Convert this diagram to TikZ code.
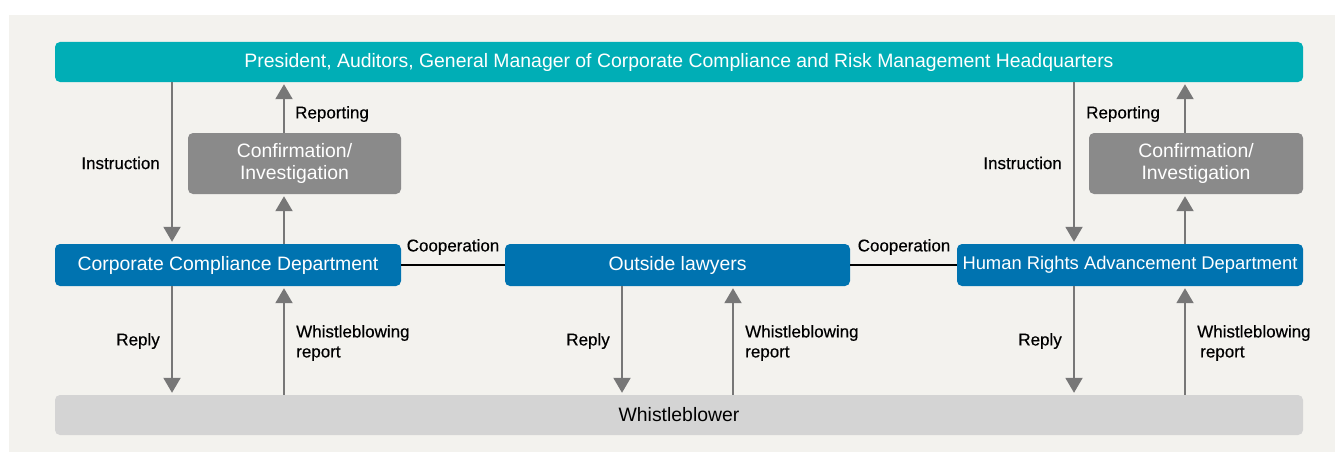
\documentclass[tikz,border=0pt]{standalone}
\usepackage{fontspec}
\usepackage{graphicx}
\setmainfont{Liberation Sans}
\usetikzlibrary{arrows.meta}
\definecolor{bgc}{HTML}{F3F2EE}
\definecolor{tealc}{HTML}{00AEB6}
\definecolor{bluec}{HTML}{0073B0}
\definecolor{grayc}{HTML}{8A8A8A}
\definecolor{wbc}{HTML}{D4D4D4}
\definecolor{arrc}{HTML}{777777}
\begin{document}
\begin{tikzpicture}[x=1pt,y=-1pt,
  box/.style={draw=none,rounded corners=5pt,inner sep=0pt,font=\fontsize{19.4}{22}\selectfont,align=center},
  topbox/.style={box,fill=tealc,text=white},
  bluebox/.style={box,fill=bluec,text=white},
  graybox/.style={box,fill=grayc,text=white},
  wbbox/.style={box,fill=wbc,text=black},
  lbl/.style={font=\fontsize{17}{20}\selectfont\addfontfeature{FakeBold=0.4},text=black,inner sep=0pt},
  arr/.style={draw=arrc,line width=2pt,-{Triangle[length=15pt,width=17pt]},shorten >=2pt},
  coop/.style={draw=black,line width=1.6pt}]
\useasboundingbox (0,0) rectangle (1335,452);
\fill[white] (0,0) rectangle (1335,452);
\fill[bgc] (9,15) rectangle (1335,452);

% boxes
\node[topbox,minimum width=1248pt,minimum height=40pt] (top) at (679,62)
  {\raisebox{-1.5pt}{President, Auditors, General Manager of Corporate Compliance and Risk Management Headquarters}};
\node[graybox,minimum width=213pt,minimum height=61pt] (confL) at (294.5,163.5) {Confirmation/\\Investigation};
\node[graybox,minimum width=214pt,minimum height=61pt] (confR) at (1196,163.5) {Confirmation/\\Investigation};
\node[bluebox,minimum width=346pt,minimum height=42pt] (ccd) at (228,265) {\raisebox{-1.5pt}{Corporate Compliance Department}};
\node[bluebox,minimum width=345pt,minimum height=42pt] (law) at (677.5,265) {\raisebox{-1.5pt}{Outside lawyers}};
\node[bluebox,minimum width=346pt,minimum height=42pt] (hrd) at (1130,265) {\raisebox{-1.5pt}{\resizebox{335pt}{!}{Human Rights Advancement Department}}};
\node[wbbox,minimum width=1248pt,minimum height=40pt] (wb) at (679,415) {\raisebox{-1pt}{Whistleblower}};

% coordinates for arrow positions
\coordinate (a1) at (172,0); \coordinate (a2) at (284,0);
\coordinate (a3) at (622,0); \coordinate (a4) at (733,0);
\coordinate (a5) at (1074,0); \coordinate (a6) at (1185,0);

% left column
\draw[arr] (top.south -| a1) -- (ccd.north -| a1);
\draw[arr] (ccd.north -| a2) -- (confL.south -| a2);
\draw[arr] (confL.north -| a2) -- (top.south -| a2);
\draw[arr] (ccd.south -| a1) -- (wb.north -| a1);
\draw[arr] (wb.north -| a2) -- (ccd.south -| a2);
% middle
\draw[arr] (law.south -| a3) -- (wb.north -| a3);
\draw[arr] (wb.north -| a4) -- (law.south -| a4);
% right column
\draw[arr] (top.south -| a5) -- (hrd.north -| a5);
\draw[arr] (hrd.north -| a6) -- (confR.south -| a6);
\draw[arr] (confR.north -| a6) -- (top.south -| a6);
\draw[arr] (hrd.south -| a5) -- (wb.north -| a5);
\draw[arr] (wb.north -| a6) -- (hrd.south -| a6);

% cooperation
\draw[coop] (ccd.east) -- (law.west);
\draw[coop] (law.east) -- (hrd.west);
\node[lbl] (c1) at (453,247) {Cooperation};
\node[lbl] (c2) at (904,247) {Cooperation};

% labels
\node[lbl,anchor=east] (l1) at (160,163) {Instruction};
\node[lbl,anchor=west] (l2) at (295,114) {Reporting};
\node[lbl,anchor=east] (l3) at (160,341) {Reply};
\node[lbl,anchor=west,align=left] (l4) at (296,343) {Whistleblowing\\report};
\node[lbl,anchor=east] (l5) at (610,341) {Reply};
\node[lbl,anchor=west,align=left] (l6) at (745,343) {Whistleblowing\\report};
\node[lbl,anchor=east] (l7) at (1062,163) {Instruction};
\node[lbl,anchor=west] (l8) at (1086,114) {Reporting};
\node[lbl,anchor=east] (l9) at (1062,341) {Reply};
\node[lbl,anchor=west,align=left] (l10) at (1197,343) {Whistleblowing\\\hspace*{3pt}report};
\end{tikzpicture}
\end{document}
